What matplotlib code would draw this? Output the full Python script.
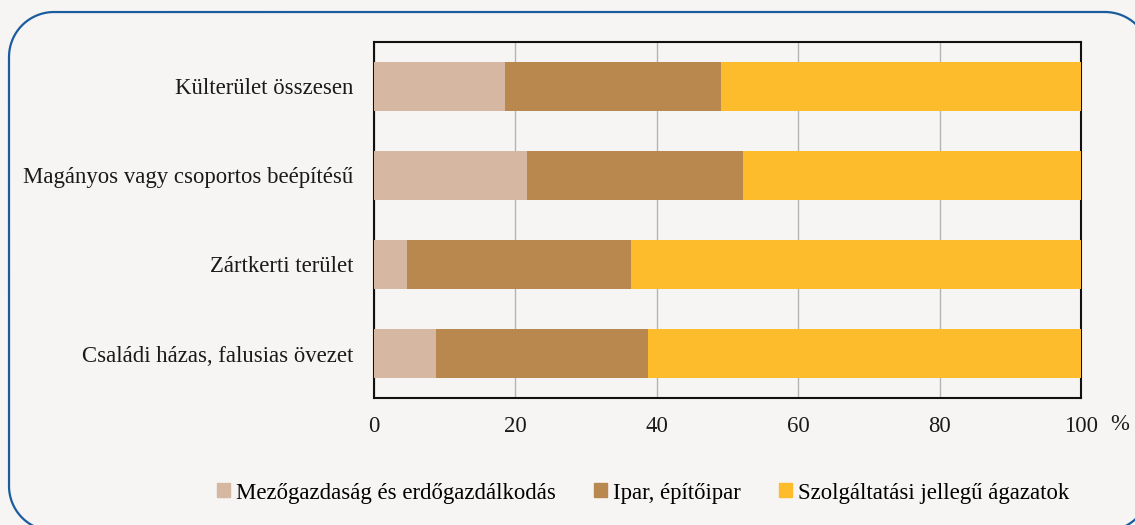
import matplotlib
matplotlib.use("Agg")
import matplotlib.pyplot as plt
from matplotlib.patches import Rectangle
import numpy as np

categories = [
    "Külterület összesen",
    "Magányos vagy csoportos beépítésű",
    "Zártkerti terület",
    "Családi házas, falusias övezet",
]
series_names = [
    "Mezőgazdaság és erdőgazdálkodás",
    "Ipar, építőipar",
    "Szolgáltatási jellegű ágazatok",
]
agri = [18.5, 21.7, 4.7, 8.8]
industry = [30.6, 30.5, 31.7, 30.0]
services = [50.9, 47.8, 63.6, 61.2]
xticks = [0, 20, 40, 60, 80, 100]

colors = ["#d6b7a2", "#b9884f", "#fdbc2c"]
bg = "#f6f5f3"
frame_color = "#1a5c9e"
text_color = "#1a1a1a"
fs = 16.4

plt.rcParams["font.family"] = ["Liberation Serif", "DejaVu Serif"]

W, H = 1135, 525
fig = plt.figure(figsize=(W / 100, H / 100), dpi=100, facecolor=bg)


def rounded_rect(x0, y0, x1, y1, r, n=40):
    """Outline of a rounded rectangle (pixel units, y pointing up)."""
    pts = []
    corners = [
        (x1 - r, y1 - r, 0.0),            # top-right
        (x0 + r, y1 - r, np.pi / 2),      # top-left
        (x0 + r, y0 + r, np.pi),          # bottom-left
        (x1 - r, y0 + r, 1.5 * np.pi),    # bottom-right
    ]
    for cx, cy, a0 in corners:
        t = np.linspace(a0, a0 + np.pi / 2, n)
        pts.append(np.column_stack([cx + r * np.cos(t), cy + r * np.sin(t)]))
    pts = np.vstack(pts + [pts[0][:1]])
    return pts[:, 0], pts[:, 1]


# rounded outer frame drawn in pixel units on a full-figure overlay
frame_ax = fig.add_axes([0, 0, 1, 1], zorder=0)
frame_ax.set_xlim(0, W)
frame_ax.set_ylim(0, H)
frame_ax.axis("off")
frame_ax.patch.set_alpha(0)
fx, fy = rounded_rect(9, H - 531, 1150, H - 12, 45)
frame_ax.plot(fx, fy, color=frame_color, linewidth=1.6, clip_on=False,
              solid_capstyle="round")

left, right, top, bottom = 374, 1081, 42, 398
ax = fig.add_axes([left / W, 1 - bottom / H, (right - left) / W, (bottom - top) / H], zorder=1)
ax.set_facecolor(bg)

y = np.arange(len(categories))
series = [agri, industry, services]
start = np.zeros(len(categories))
for vals, col, name in zip(series, colors, series_names):
    ax.barh(y, vals, left=start, height=0.55, color=col, label=name, zorder=3)
    start = start + np.array(vals)

ax.set_xlim(0, 100)
ax.set_ylim(len(categories) - 0.5, -0.5)
ax.set_yticks(y)
ax.set_yticklabels(categories, fontsize=fs, color=text_color)
ax.set_xticks(xticks)
ax.set_xticklabels([str(t) for t in xticks], fontsize=fs, color=text_color)
ax.tick_params(axis="both", length=0)
ax.tick_params(axis="x", pad=13)
ax.tick_params(axis="y", pad=15)
ax.xaxis.grid(True, color="#b4b4b4", linewidth=1.0, zorder=0)
ax.set_axisbelow(True)
for s in ax.spines.values():
    s.set_color("#111111")
    s.set_linewidth(1.5)

fig.text(1120 / W, 1 - 425 / H, "%", fontsize=fs, color=text_color,
         ha="center", va="center")

handles = [Rectangle((0, 0), 1, 1, color=c) for c in colors]
fig.legend(handles, series_names, loc="center", bbox_to_anchor=(643 / W, 1 - 493 / H),
           ncol=3, frameon=False, fontsize=fs, handlelength=0.57, handleheight=0.57,
           handletextpad=0.25, columnspacing=1.7, borderpad=0, borderaxespad=0)

fig.savefig("out.png", dpi=100, facecolor=bg)
